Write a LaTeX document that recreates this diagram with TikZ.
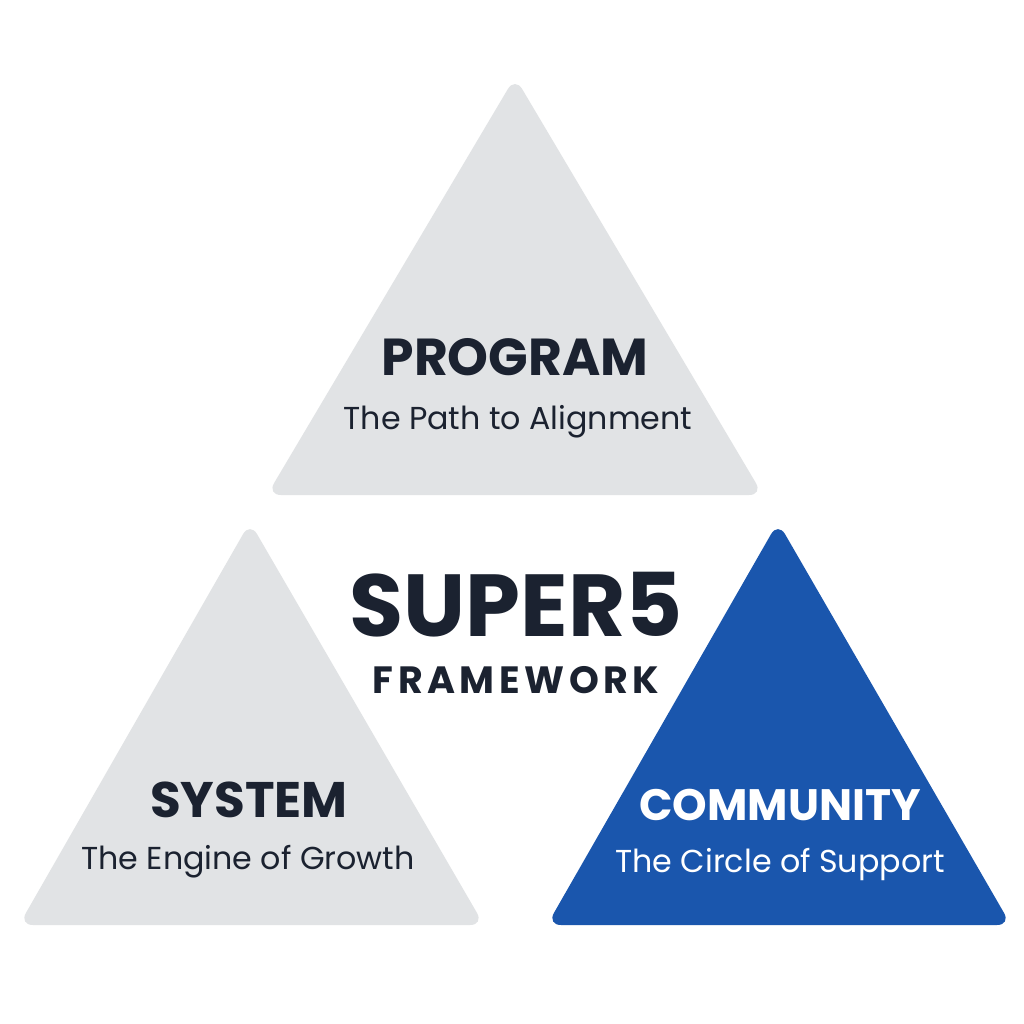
\documentclass[tikz,border=0pt]{standalone}
\usepackage{fontspec}
\setmainfont{Poppins}
\definecolor{tri}{HTML}{E1E3E5}
\definecolor{blu}{HTML}{1A56AD}
\definecolor{ink}{HTML}{1B2230}
\begin{document}
\begin{tikzpicture}[x=1pt,y=-1pt,
  trishape/.style={rounded corners=14pt},
  head/.style={text=ink, inner sep=0pt},
  sub/.style={font=\fontsize{31.7}{34}\selectfont, text=ink, inner sep=0pt}]
\useasboundingbox (0,0) rectangle (1024,1024);
\fill[white] (0,0) rectangle (1024,1024);
% triangles
\fill[tri,trishape] (515,77) -- (763,495) -- (267,495) -- cycle;
\fill[tri,trishape] (250,522) -- (484,925) -- (19,925) -- cycle;
\fill[blu,trishape] (778,522) -- (1011,925) -- (547,925) -- cycle;
% texts
\node[head, font=\fontsize{52}{54}\selectfont\bfseries] (program) at (515,357) {PROGRAM};
\node[sub] (programsub) at (518,422) {The Path to Alignment};
\node[head, font=\fontsize{88}{90}\selectfont\bfseries] (super) at (516,605) {SUPER5};
\node[head, font=\fontsize{38}{40}\selectfont\bfseries\addfontfeatures{LetterSpace=12}] (frame) at (516,680) {FRAMEWORK};
\node[head, font=\fontsize{50}{52}\selectfont\bfseries] (system) at (249,800) {SYSTEM};
\node[sub] (systemsub) at (248,862) {The Engine of Growth};
\node[head, font=\fontsize{44}{46}\selectfont\bfseries, text=white] (community) at (780,805) {COMMUNITY};
\node[sub, text=white] (communitysub) at (780,865) {The Circle of Support};
\end{tikzpicture}
\end{document}
